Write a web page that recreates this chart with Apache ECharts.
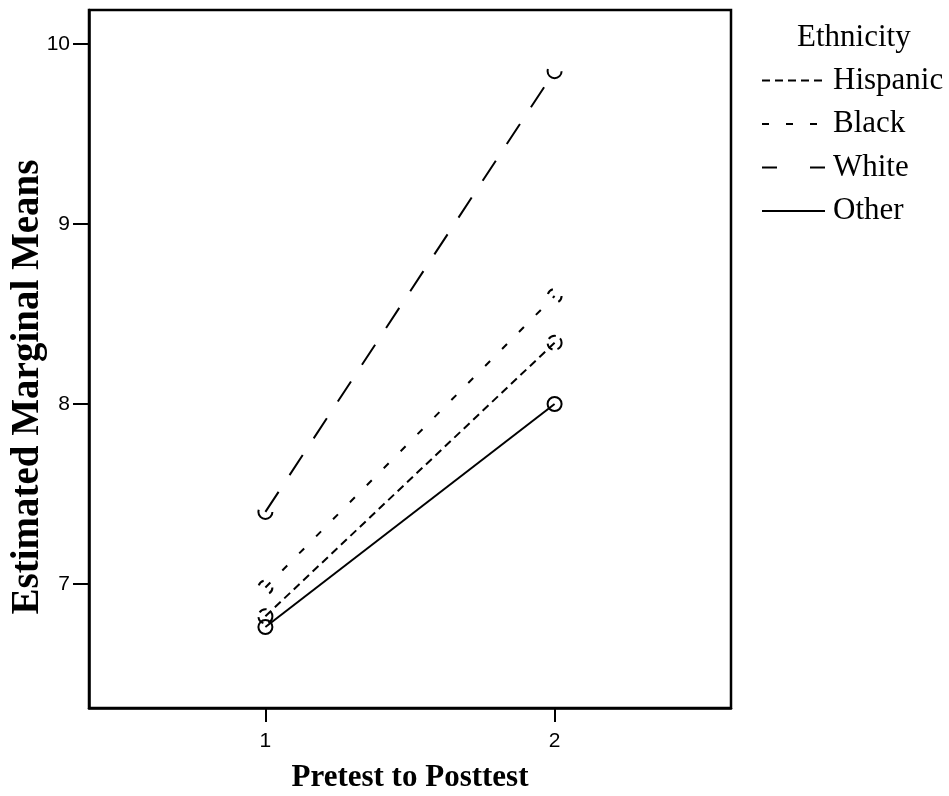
<!DOCTYPE html>
<html>
<head>
<meta charset="utf-8">
<script src="https://cdn.jsdelivr.net/npm/echarts@6/dist/echarts.min.js"></script>
<style>
  html, body { margin: 0; padding: 0; background: #fff; }
  #chart { width: 949px; height: 796px; }
</style>
</head>
<body>
<div id="chart"></div>
<script>
// Estimated marginal means, pretest (1) to posttest (2), by ethnicity
const timePoints = [1, 2];
const hispanic = [6.82, 8.34];
const black = [6.98, 8.60];
const white = [7.40, 9.85];
const other = [6.76, 8.00];
const xTicks = [1, 2];
const yTicks = [7, 8, 9, 10];

// dash patterns: in the plot and in the legend key
const groups = [
  { name: 'Hispanic', values: hispanic, dash: [8, 5], key: [8, 5] },
  { name: 'Black', values: black, dash: [7, 17], key: [7, 17] },
  { name: 'White', values: white, dash: [24, 20], key: [15, 33] },
  { name: 'Other', values: other, dash: 'solid', key: 'solid' }
];

const serif = '"Liberation Serif", "Times New Roman", serif';
const sans = '"Liberation Sans", Arial, sans-serif';

const chart = echarts.init(document.getElementById('chart'), null, { renderer: 'canvas' });

chart.setOption({
  animation: false,
  backgroundColor: '#fff',
  title: {
    text: 'Ethnicity',
    left: 797,
    top: 22,
    padding: 0,
    textStyle: { fontFamily: serif, fontWeight: 'normal', fontSize: 31, lineHeight: 31, color: '#000' }
  },
  legend: {
    orient: 'vertical',
    left: 761,
    top: 65,
    padding: 0,
    itemWidth: 63,
    itemHeight: 14,
    itemGap: 12.5,
    data: groups.map(g => ({
      name: g.name,
      lineStyle: { color: '#000', width: 2, type: g.key }
    })),
    itemStyle: { opacity: 0 },
    textStyle: { fontFamily: serif, fontSize: 31, lineHeight: 31, color: '#000', padding: [0, 0, 0, 3] }
  },
  grid: {
    left: 89, top: 10, right: 218, bottom: 88,
    containLabel: false,
    outerBoundsMode: 'none',
    show: true, borderColor: '#000', borderWidth: 2.5, backgroundColor: '#fff'
  },
  xAxis: {
    type: 'value',
    min: 0.39,
    max: 2.61,
    name: 'Pretest to Posttest',
    nameLocation: 'middle',
    nameGap: 54,
    nameMoveOverlap: false,
    nameTextStyle: { fontFamily: serif, fontWeight: 'bold', fontSize: 31, color: '#000' },
    splitLine: { show: false },
    axisLine: { show: true, lineStyle: { color: '#000', width: 2.5 } },
    axisTick: { show: true, customValues: xTicks, length: 14, lineStyle: { color: '#000', width: 2 } },
    axisLabel: { customValues: xTicks, margin: 23, fontFamily: sans, fontSize: 21, color: '#000' }
  },
  yAxis: {
    type: 'value',
    min: 6.31,
    max: 10.19,
    name: 'Estimated Marginal Means',
    nameLocation: 'middle',
    nameRotate: 90,
    nameGap: 42,
    nameMoveOverlap: false,
    nameTextStyle: { fontFamily: serif, fontWeight: 'bold', fontSize: 39, color: '#000', padding: [0, 56, 0, 0] },
    splitLine: { show: false },
    axisLine: { show: true, lineStyle: { color: '#000', width: 2.5 } },
    axisTick: { show: true, customValues: yTicks, length: 16, lineStyle: { color: '#000', width: 2 } },
    axisLabel: { customValues: yTicks, margin: 19, fontFamily: sans, fontSize: 21, color: '#000' }
  },
  series: groups.map(g => ({
    name: g.name,
    type: 'line',
    data: timePoints.map((t, i) => [t, g.values[i]]),
    symbol: 'circle',
    symbolSize: 14,
    showAllSymbol: true,
    color: '#000',
    lineStyle: { color: '#000', width: 2, type: g.dash },
    itemStyle: { color: 'rgba(0,0,0,0)', borderColor: '#000', borderWidth: 2, borderType: g.dash },
    emphasis: { disabled: true }
  }))
});
</script>
</body>
</html>
